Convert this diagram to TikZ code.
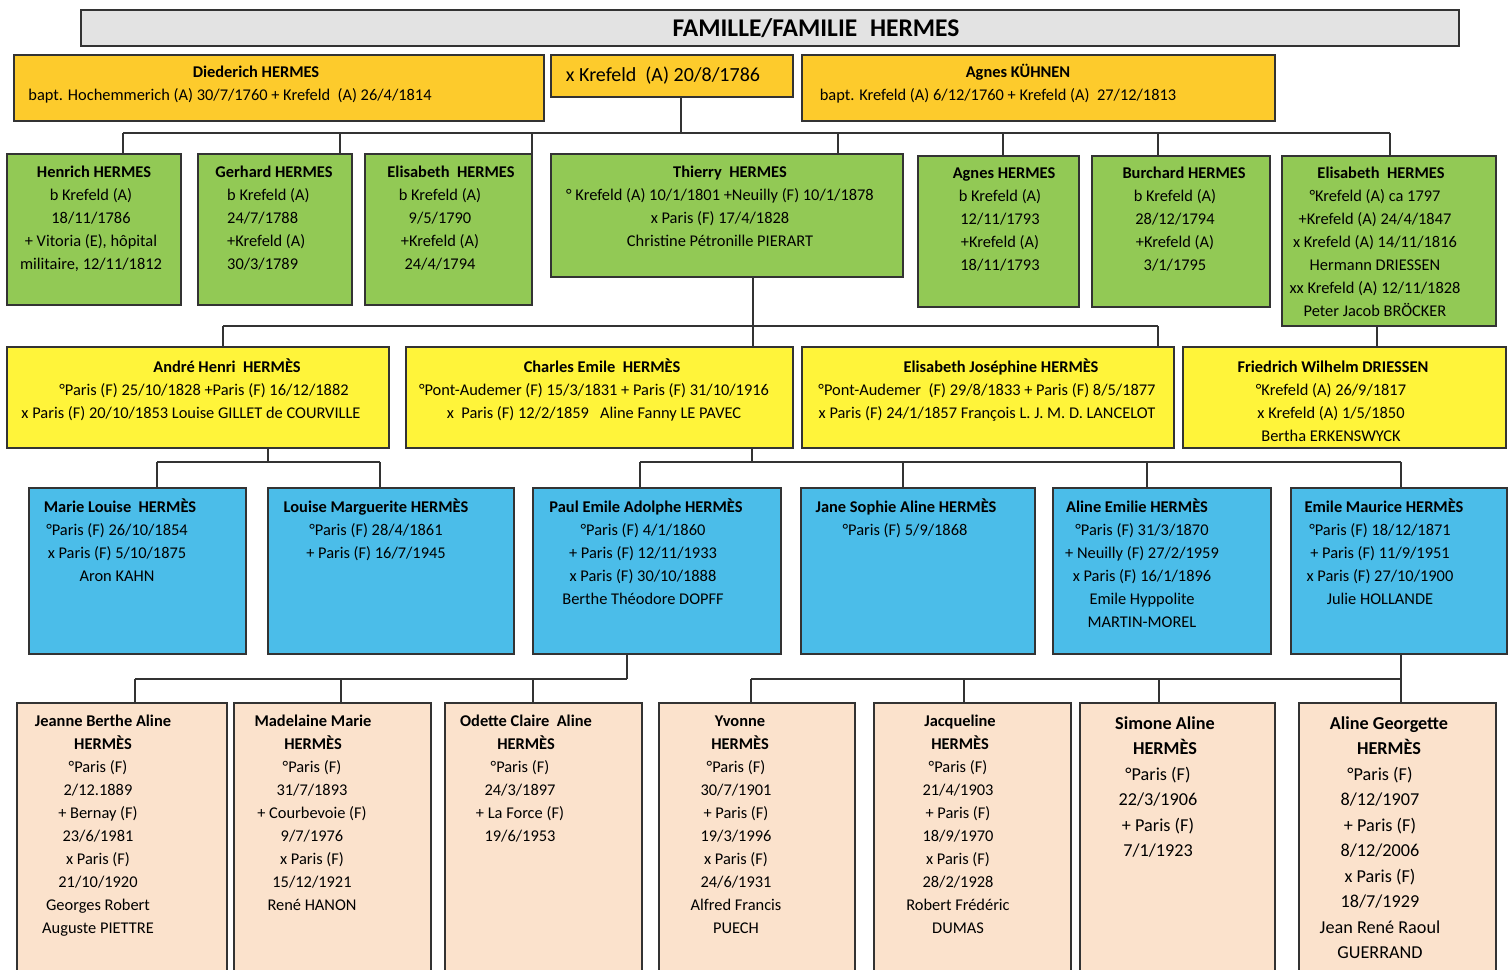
\documentclass[tikz,border=0pt]{standalone}
\usepackage{fontspec}
\setmainfont{Carlito}
\definecolor{gold}{HTML}{FDCB2C}
\definecolor{grn}{HTML}{92C955}
\definecolor{yel}{HTML}{FFF43A}
\definecolor{blu}{HTML}{4BBDE9}
\definecolor{pch}{HTML}{FBE2CC}
\definecolor{gry}{HTML}{E3E3E3}
\definecolor{edge}{HTML}{333333}
\tikzset{
  box/.style={draw=edge, line width=1.4pt, inner sep=0pt, outer sep=0pt, rectangle},
  conn/.style={draw=edge, line width=1.4pt},
  tnorm/.style={anchor=base, inner sep=0pt, font=\fontsize{16.4}{18}\selectfont},
  tnormW/.style={anchor=base west, inner sep=0pt, font=\fontsize{16.4}{18}\selectfont},
  tbold/.style={anchor=base, inner sep=0pt, font=\fontsize{16.4}{18}\selectfont\bfseries},
  tnormL/.style={anchor=base, inner sep=0pt, font=\fontsize{18.2}{20}\selectfont},
  tboldL/.style={anchor=base, inner sep=0pt, font=\fontsize{18.2}{20}\selectfont\bfseries},
  tbig/.style={anchor=base, inner sep=0pt, font=\fontsize{20}{22}\selectfont},
  ttitle/.style={anchor=base, inner sep=0pt, font=\fontsize{25.5}{28}\selectfont\bfseries},
}
\newcommand\bx[6]{\node[box,fill=#2,minimum width={(#5-#3)*1pt},minimum height={(#6-#4)*1pt}] (#1) at ({(#3+#5)/2},{(#4+#6)/2}) {};}
\newcommand\tx[6]{\foreach \t [count=\i] in {#6} {\node[#2] (#1-\i) at ({#3},{#4+(\i-1)*#5}) {\t};}}
\begin{document}
\begin{tikzpicture}[x=1pt,y=-1pt]
\useasboundingbox (0,0) rectangle (1509,969);
\clip (0,0) rectangle (1509,969);
% title
\bx{title}{gry}{81}{10}{1459}{46}
\node[ttitle] (ttext) at (816,36) {FAMILLE/FAMILIE\enspace HERMES};
% row 1
\bx{die}{gold}{14}{55}{544}{121}
\bx{mar}{gold}{551}{55}{793}{97}
\bx{agk}{gold}{802}{55}{1275}{121}
% row 2
\bx{hen}{grn}{7}{154}{181}{305}
\bx{ger}{grn}{198}{154}{352}{305}
\bx{el1}{grn}{365}{154}{532}{305}
\bx{thi}{grn}{551}{154}{903}{277}
\bx{agn}{grn}{918}{156}{1079}{307}
\bx{bur}{grn}{1092}{156}{1270}{307}
\bx{el2}{grn}{1282}{156}{1496}{326}
% row 3
\bx{and}{yel}{7}{347}{389}{448}
\bx{cha}{yel}{406}{347}{793}{448}
\bx{elj}{yel}{802}{347}{1174}{448}
\bx{fri}{yel}{1183}{347}{1506}{448}
% row 4
\bx{mlo}{blu}{29}{488}{246}{654}
\bx{lmg}{blu}{268}{488}{514}{654}
\bx{pau}{blu}{533}{488}{781}{654}
\bx{jan}{blu}{801}{488}{1035}{654}
\bx{ale}{blu}{1053}{488}{1271}{654}
\bx{emm}{blu}{1291}{488}{1507}{654}
% row 5
\bx{jea}{pch}{17}{703}{227}{985}
\bx{mad}{pch}{234}{703}{431}{985}
\bx{ode}{pch}{445}{703}{642}{985}
\bx{yvo}{pch}{659}{703}{855}{985}
\bx{jac}{pch}{874}{703}{1071}{985}
\bx{sim}{pch}{1080}{703}{1275}{985}
\bx{alg}{pch}{1299}{703}{1496}{985}

% ---------- connectors ----------
\coordinate (b1L) at (123,133); \coordinate (b1R) at (1390,133);
\coordinate (b1m) at (681,133);
\coordinate (b1c) at (340,133); \coordinate (b1d) at (532,133);
\coordinate (b1e) at (838,133); \coordinate (b1f) at (1003,133);
\coordinate (b1g) at (1158,133);
\draw[conn] (b1L) -- (b1R);
\draw[conn] (b1m |- mar.south) -- (b1m);
\draw[conn] (b1L) -- (b1L |- hen.north);
\draw[conn] (b1c) -- (b1c |- ger.north);
\draw[conn] (b1d) -- (b1d |- el1.north);
\draw[conn] (b1e) -- (b1e |- thi.north);
\draw[conn] (b1f) -- (b1f |- agn.north);
\draw[conn] (b1g) -- (b1g |- bur.north);
\draw[conn] (b1R) -- (b1R |- el2.north);

\coordinate (b2L) at (223,326); \coordinate (b2R) at (1158,326);
\coordinate (b2t) at (753,326); \coordinate (e2f) at (1377,337);
\draw[conn] (b2L) -- (b2R);
\draw[conn] (b2t |- thi.south) -- (b2t |- cha.north);
\draw[conn] (b2L) -- (b2L |- and.north);
\draw[conn] (b2R) -- (b2R |- elj.north);
\draw[conn] (e2f |- el2.south) -- (e2f |- fri.north);

\coordinate (b3L) at (157,462); \coordinate (b3R) at (380,462);
\coordinate (b3a) at (268,462);
\draw[conn] (b3L) -- (b3R);
\draw[conn] (b3a |- and.south) -- (b3a);
\draw[conn] (b3L) -- (b3L |- mlo.north);
\draw[conn] (b3R) -- (b3R |- lmg.north);

\coordinate (b3c) at (640,462); \coordinate (b3d) at (1401,462);
\coordinate (b3e) at (752,462); \coordinate (b3f) at (903,462);
\coordinate (b3g) at (1147,462);
\draw[conn] (b3c) -- (b3d);
\draw[conn] (b3e |- cha.south) -- (b3e);
\draw[conn] (b3c) -- (b3c |- pau.north);
\draw[conn] (b3f) -- (b3f |- jan.north);
\draw[conn] (b3g) -- (b3g |- ale.north);
\draw[conn] (b3d) -- (b3d |- emm.north);

\coordinate (b4L) at (135,679); \coordinate (b4R) at (627,679);
\coordinate (b4b) at (341,679); \coordinate (b4c) at (533,679);
\draw[conn] (b4L) -- (b4R);
\draw[conn] (b4R |- pau.south) -- (b4R);
\draw[conn] (b4L) -- (b4L |- jea.north);
\draw[conn] (b4b) -- (b4b |- mad.north);
\draw[conn] (b4c) -- (b4c |- ode.north);

\coordinate (b4d) at (751,679); \coordinate (b4e) at (1401,679);
\coordinate (b4f) at (964,679); \coordinate (b4g) at (1159,679);
\draw[conn] (b4d) -- (b4e);
\draw[conn] (b4e |- emm.south) -- (b4e);
\draw[conn] (b4d) -- (b4d |- yvo.north);
\draw[conn] (b4f) -- (b4f |- jac.north);
\draw[conn] (b4g) -- (b4g |- sim.north);
\draw[conn] (b4e) -- (b4e |- alg.north);

% ---------- texts ----------
% row 1
\tx{die-a}{tbold}{256}{77}{23}{Diederich HERMES}
\tx{die-b}{tnorm}{230}{100}{23}{bapt. Hochemmerich (A) 30/7/1760 + Krefeld\ \ (A) 26/4/1814}
\tx{mar-a}{tbig}{663}{81}{23}{x Krefeld\ \ (A) 20/8/1786}
\tx{agk-a}{tbold}{1018}{77}{23}{Agnes KÜHNEN}
\tx{agk-b}{tnorm}{998}{100}{23}{bapt. Krefeld (A) 6/12/1760 + Krefeld (A)\ \ 27/12/1813}
% row 2
\tx{hen-a}{tbold}{94}{177}{23}{Henrich HERMES}
\tx{hen-b}{tnorm}{91}{200}{23}{b Krefeld (A), 18/11/1786, {+ Vitoria (E), hôpital}, {militaire, 12/11/1812}}
\tx{ger-a}{tbold}{274}{177}{23}{Gerhard HERMES}
\tx{ger-b}{tnormW}{227}{200}{23}{b Krefeld (A), 24/7/1788, +Krefeld (A), 30/3/1789}
\tx{el1-a}{tbold}{451}{177}{23}{Elisabeth\ \ HERMES}
\tx{el1-b}{tnorm}{440}{200}{23}{b Krefeld (A), 9/5/1790, +Krefeld (A), 24/4/1794}
\tx{thi-a}{tbold}{730}{177}{23}{Thierry\ \ HERMES}
\tx{thi-b}{tnorm}{720}{200}{23}{° Krefeld (A) 10/1/1801 +Neuilly (F) 10/1/1878, x Paris (F) 17/4/1828, Christine Pétronille PIERART}
\tx{agn-a}{tbold}{1004}{178}{23}{Agnes HERMES}
\tx{agn-b}{tnorm}{1000}{201}{23}{b Krefeld (A), 12/11/1793, +Krefeld (A), 18/11/1793}
\tx{bur-a}{tbold}{1184}{178}{23}{Burchard HERMES}
\tx{bur-b}{tnorm}{1175}{201}{23}{b Krefeld (A), 28/12/1794, +Krefeld (A), 3/1/1795}
\tx{el2-a}{tbold}{1381}{178}{23}{Elisabeth\ \ HERMES}
\tx{el2-b}{tnorm}{1375}{201}{23}{°Krefeld (A) ca 1797, +Krefeld (A) 24/4/1847, x Krefeld (A) 14/11/1816, Hermann DRIESSEN, xx Krefeld (A) 12/11/1828, Peter Jacob BRÖCKER}
% row 3
\tx{and-a}{tbold}{227}{372}{23}{André Henri\ \ HERMÈS}
\tx{and-b}{tnorm}{204}{395}{23}{°Paris (F) 25/10/1828 +Paris (F) 16/12/1882}
\tx{and-c}{tnorm}{191}{418}{23}{x Paris (F) 20/10/1853 Louise GILLET de COURVILLE}
\tx{cha-a}{tbold}{602}{372}{23}{Charles Emile\ \ HERMÈS}
\tx{cha-b}{tnorm}{594}{395}{23}{°Pont-Audemer (F) 15/3/1831 + Paris (F) 31/10/1916, x\ \ Paris (F) 12/2/1859\ \ \ Aline Fanny LE PAVEC}
\tx{elj-a}{tbold}{1001}{372}{23}{Elisabeth Joséphine HERMÈS}
\tx{elj-b}{tnorm}{987}{395}{23}{°Pont-Audemer\ \ (F) 29/8/1833 + Paris (F) 8/5/1877, x Paris (F) 24/1/1857 François L. J. M. D. LANCELOT}
\tx{fri-a}{tbold}{1333}{372}{23}{Friedrich Wilhelm DRIESSEN}
\tx{fri-b}{tnorm}{1331}{395}{23}{°Krefeld (A) 26/9/1817, x Krefeld (A) 1/5/1850, Bertha ERKENSWYCK}
% row 4
\tx{mlo-a}{tbold}{120}{512}{23}{Marie Louise\ \ HERMÈS}
\tx{mlo-b}{tnorm}{117}{535}{23}{°Paris (F) 26/10/1854, x Paris (F) 5/10/1875, Aron KAHN}
\tx{lmg-a}{tbold}{376}{512}{23}{Louise Marguerite HERMÈS}
\tx{lmg-b}{tnorm}{376}{535}{23}{°Paris (F) 28/4/1861, + Paris (F) 16/7/1945}
\tx{pau-a}{tbold}{646}{512}{23}{Paul Emile Adolphe HERMÈS}
\tx{pau-b}{tnorm}{643}{535}{23}{°Paris (F) 4/1/1860, + Paris (F) 12/11/1933, x Paris (F) 30/10/1888, Berthe Théodore DOPFF}
\tx{jan-a}{tbold}{906}{512}{23}{Jane Sophie Aline HERMÈS}
\tx{jan-b}{tnorm}{905}{535}{23}{°Paris (F) 5/9/1868}
\tx{ale-a}{tbold}{1137}{512}{23}{Aline Emilie HERMÈS}
\tx{ale-b}{tnorm}{1142}{535}{23}{°Paris (F) 31/3/1870, + Neuilly (F) 27/2/1959, x Paris (F) 16/1/1896, Emile Hyppolite, MARTIN-MOREL}
\tx{emm-a}{tbold}{1384}{512}{23}{Emile Maurice HERMÈS}
\tx{emm-b}{tnorm}{1380}{535}{23}{°Paris (F) 18/12/1871, + Paris (F) 11/9/1951, x Paris (F) 27/10/1900, Julie HOLLANDE}
% row 5
\tx{jea-a}{tbold}{103}{726}{23}{Jeanne Berthe Aline, HERMÈS}
\tx{jea-b}{tnorm}{98}{772}{23}{°Paris (F), 2/12.1889, + Bernay (F), 23/6/1981, x Paris (F), 21/10/1920, Georges Robert, Auguste PIETTRE}
\tx{mad-a}{tbold}{313}{726}{23}{Madelaine Marie, HERMÈS}
\tx{mad-b}{tnorm}{312}{772}{23}{°Paris (F), 31/7/1893, + Courbevoie (F), 9/7/1976, x Paris (F), 15/12/1921, René HANON}
\tx{ode-a}{tbold}{526}{726}{23}{Odette Claire\ \ Aline, HERMÈS}
\tx{ode-b}{tnorm}{520}{772}{23}{°Paris (F), 24/3/1897, + La Force (F), 19/6/1953}
\tx{yvo-a}{tbold}{740}{726}{23}{Yvonne, HERMÈS}
\tx{yvo-b}{tnorm}{736}{772}{23}{°Paris (F), 30/7/1901, + Paris (F), 19/3/1996, x Paris (F), 24/6/1931, Alfred Francis, PUECH}
\tx{jac-a}{tbold}{960}{726}{23}{Jacqueline, HERMÈS}
\tx{jac-b}{tnorm}{958}{772}{23}{°Paris (F), 21/4/1903, + Paris (F), 18/9/1970, x Paris (F), 28/2/1928, Robert Frédéric, DUMAS}
\tx{sim-a}{tboldL}{1165}{729}{25.5}{Simone Aline, HERMÈS}
\tx{sim-b}{tnormL}{1158}{780}{25.5}{°Paris (F), 22/3/1906, + Paris (F), 7/1/1923}
\tx{alg-a}{tboldL}{1389}{729}{25.5}{Aline Georgette, HERMÈS}
\tx{alg-b}{tnormL}{1380}{780}{25.5}{°Paris (F), 8/12/1907, + Paris (F), 8/12/2006, x Paris (F), 18/7/1929, Jean René Raoul, GUERRAND}
\end{tikzpicture}
\end{document}
